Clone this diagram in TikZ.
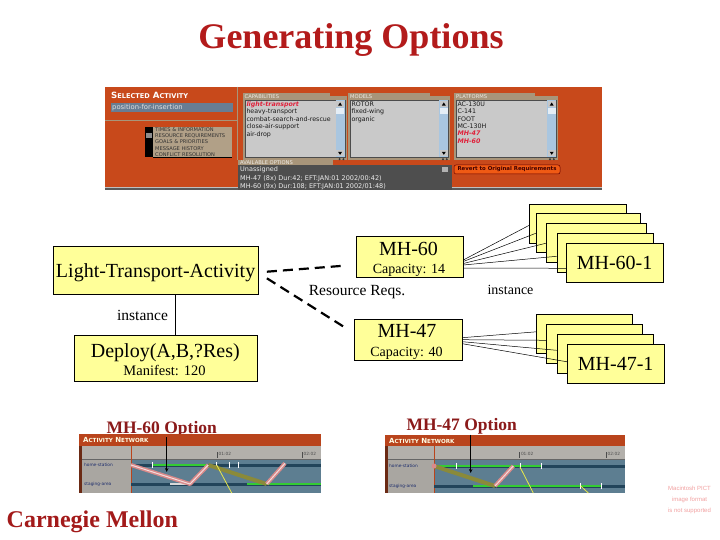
\documentclass[tikz,border=0pt]{standalone}
\usepackage{fontspec}
\setmainfont{Liberation Serif}
\newfontfamily\uifont{DejaVu Sans}
\newfontfamily\pictfont{Liberation Sans}
\usetikzlibrary{calc,arrows.meta}
\definecolor{boxyellow}{HTML}{FFFF99}
\definecolor{titlered}{HTML}{B31B1B}
\definecolor{optred}{HTML}{8B1A1A}
\definecolor{cmured}{HTML}{A31A1A}
\definecolor{pictpink}{HTML}{F2A0A0}
\definecolor{uiorange}{HTML}{C8491B}
\definecolor{uitan}{HTML}{A8957A}
\definecolor{uilist}{HTML}{C9C9C9}
\definecolor{uiscroll}{HTML}{A9C6E0}
\definecolor{uidark}{HTML}{4E4E4E}
\definecolor{uislate}{HTML}{687D93}
\definecolor{uitext}{HTML}{1A1A1A}
\definecolor{uired}{HTML}{E0203A}
\definecolor{revert}{HTML}{F05A14}
\definecolor{netorange}{HTML}{B9441C}
\definecolor{netgrey}{HTML}{B3B0AB}
\definecolor{netgreyb}{HTML}{A9A6A1}
\definecolor{netbrown}{HTML}{6B2A14}
\definecolor{netplot}{HTML}{5D7E91}
\definecolor{netbar}{HTML}{22445A}
\definecolor{netgreen}{HTML}{33CC33}
\definecolor{pinkband}{HTML}{D98A8A}
\definecolor{oliveband}{HTML}{8A8A3A}
\definecolor{netyellow}{HTML}{E8E84A}
\definecolor{netlabel}{HTML}{1C2C6C}
\begin{document}
\begin{tikzpicture}[x=1pt,y=-1pt,
  box/.style={draw=black, line width=0.6pt, fill=boxyellow, inner sep=0pt},
  dashline/.style={line width=2.2pt, dash pattern=on 10pt off 6pt},
  link/.style={line width=0.5pt},
  ui/.style={inner sep=0pt, anchor=west, font=\uifont\fontsize{6.3}{7}\selectfont, text=uitext},
  uiredtxt/.style={ui, text=uired, font=\uifont\bfseries\itshape\fontsize{6.3}{7}\selectfont},
  uiopt/.style={ui, text=white!92!black, font=\uifont\fontsize{6.5}{7}\selectfont},
  uihead/.style={inner sep=0pt, anchor=west, font=\uifont\fontsize{5.2}{6}\selectfont, text=white!80!uitan},
  menuitem/.style={inner sep=0pt, anchor=west, font=\uifont\fontsize{5.1}{6}\selectfont, text=black!80},
  nettitle/.style={inner sep=0pt, anchor=west, font=\uifont\bfseries\fontsize{7}{7}\selectfont, text=white!90!yellow},
  netrow/.style={inner sep=0pt, anchor=west, font=\uifont\fontsize{4.3}{5}\selectfont, text=netlabel},
  nettick/.style={inner sep=0pt, anchor=west, font=\uifont\fontsize{4.3}{5}\selectfont, text=black!70},
  bigtxt/.style={inner sep=0pt, anchor=base, font=\fontsize{20}{22}\selectfont},
  smalltxt/.style={inner sep=0pt, anchor=base, font=\fontsize{14}{16}\selectfont},
  optlabel/.style={inner sep=0pt, anchor=base, text=optred, font=\fontsize{17.5}{20}\selectfont\bfseries}
]
\useasboundingbox (0,0) rectangle (720,540);
\fill[white] (0,0) rectangle (720,540);

% ---------- title
\node[anchor=base, inner sep=0pt, text=titlered, font=\fontsize{36}{40}\selectfont\bfseries] (title) at (351,49) {Generating Options};

% ---------- top screenshot
\fill[uiorange] (105,86.7) rectangle (602,190);
\draw[uitan, line width=1.2pt] (105,120.7) -- (237.5,120.7);
\draw[uitan, line width=1.2pt] (237.5,86.7) -- (237.5,160);
\node[inner sep=0pt, anchor=west, text=white, font=\uifont\bfseries\fontsize{8.6}{9}\selectfont] (selact) at (111,95.5)
  {S{\fontsize{6.6}{7}\selectfont ELECTED} A{\fontsize{6.6}{7}\selectfont CTIVITY}};
\fill[uislate] (110.7,103.3) rectangle (233.3,111.7);
\node[ui, text=black!12, font=\uifont\fontsize{6.8}{7}\selectfont] (actname) at (112,107.6) {position-for-insertion};
\fill[black] (145,126.7) rectangle (153.3,157.3);
\fill[black!45] (146.2,133.3) rectangle (152.2,138.3);
\foreach \i/\t in {0/TIMES \& INFORMATION,1/RESOURCE REQUIREMENTS,2/GOALS \& PRIORITIES,3/MESSAGE HISTORY,4/CONFLICT RESOLUTION}{
  \fill[uitan!90!white] (153.3,126.7+\i*6.12) rectangle (231.7,126.7+\i*6.12+6.12);
  \draw[black, line width=0.4pt] (153.3,126.7+\i*6.12+6.12) -- (231.7,126.7+\i*6.12+6.12);
  \node[menuitem] (menu\i) at (155,126.7+\i*6.12+3.2) {\t};
}
% capabilities panel
\fill[uitan] (242.7,96) rectangle (346.7,160);
\fill[uitan] (242.7,93.3) rectangle (330,96);
\node[uihead] (caphead) at (244.5,96.4) {CAPABILITIES};
\fill[uilist] (245,100) rectangle (345,157.3);
\draw[black!70, line width=0.5pt] (245,100) rectangle (345,157.3);
\fill[uiscroll] (335.5,100.3) rectangle (344.7,157);
\fill[black!22] (336.2,101) rectangle (344,107.5);
\fill[black!22] (336.2,150) rectangle (344,156.5);
\fill[white!70!uiscroll] (336.2,108.3) rectangle (344,114.5);
\fill[black] (340.1,102.5) -- (338.1,105.6) -- (342.1,105.6) -- cycle;
\fill[black] (338.1,151.8) -- (342.1,151.8) -- (340.1,154.8) -- cycle;
\node[uiredtxt] (cap1) at (246.3,104.3) {light-transport};
\node[ui] (cap2) at (246.3,111.8) {heavy-transport};
\node[ui] (cap3) at (246.3,119.3) {combat-search-and-rescue};
\node[ui] (cap4) at (246.3,126.8) {close-air-support};
\node[ui] (cap5) at (246.3,134.3) {air-drop};
\fill[black!80] (339.6,159.2) circle (1.1);
\fill[black!80] (343.4,159.2) circle (1.1);
% models panel
\fill[uitan] (348.3,96) rectangle (450,160);
\fill[uitan] (348.3,93.3) rectangle (430,96);
\node[uihead] (modhead) at (350,96.4) {MODELS};
\fill[uilist] (350,100) rectangle (448.3,157.3);
\draw[black!70, line width=0.5pt] (350,100) rectangle (448.3,157.3);
\fill[uiscroll] (439.3,100.3) rectangle (448,157);
\fill[black!22] (440,101) rectangle (447.6,107.5);
\fill[black!22] (440,150) rectangle (447.6,156.5);
\fill[white!70!uiscroll] (440,108.3) rectangle (447.6,114.5);
\fill[black] (443.8,102.5) -- (441.8,105.6) -- (445.8,105.6) -- cycle;
\fill[black] (441.8,151.8) -- (445.8,151.8) -- (443.8,154.8) -- cycle;
\node[ui] (mod1) at (351.3,104.3) {ROTOR};
\node[ui] (mod2) at (351.3,111.8) {fixed-wing};
\node[ui] (mod3) at (351.3,119.3) {organic};
\fill[black!80] (443,159.2) circle (1.1);
\fill[black!80] (446.8,159.2) circle (1.1);
% platforms panel
\fill[uitan] (454.3,96) rectangle (558.3,160);
\fill[uitan] (454.3,93.3) rectangle (535,96);
\node[uihead] (plathead) at (456,96.4) {PLATFORMS};
\fill[uilist] (456,100) rectangle (556.7,157.3);
\draw[black!70, line width=0.5pt] (456,100) rectangle (556.7,157.3);
\fill[uiscroll] (547,100.3) rectangle (556.4,157);
\fill[black!22] (547.7,101) rectangle (555.7,107.5);
\fill[black!22] (547.7,150) rectangle (555.7,156.5);
\fill[white!70!uiscroll] (547.7,108.3) rectangle (555.7,114.5);
\fill[black] (551.7,102.5) -- (549.7,105.6) -- (553.7,105.6) -- cycle;
\fill[black] (549.7,151.8) -- (553.7,151.8) -- (551.7,154.8) -- cycle;
\node[ui] (plat1) at (457.3,104.3) {AC-130U};
\node[ui] (plat2) at (457.3,111.7) {C-141};
\node[ui] (plat3) at (457.3,119.1) {FOOT};
\node[ui] (plat4) at (457.3,126.6) {MC-130H};
\node[uiredtxt] (plat5) at (457.3,133.7) {MH-47};
\node[uiredtxt] (plat6) at (457.3,141.2) {MH-60};
\fill[black!80] (550,159.2) circle (1.1);
\fill[black!80] (553.8,159.2) circle (1.1);
% available options
\fill[uitan] (238.3,160) rectangle (333,165);
\node[uihead] (avhead) at (240,162.6) {AVAILABLE OPTIONS};
\fill[uidark] (238.3,165) rectangle (451.7,190);
\fill[black!30] (441.7,166.7) rectangle (448.3,171.7);
\node[uiopt] (av1) at (240,170.2) {Unassigned};
\node[uiopt] (av2) at (240,178.4) {MH-47 (8x) Dur:42; EFT:JAN:01 2002/00:42)};
\node[uiopt] (av3) at (240,186.5) {MH-60 (9x) Dur:108; EFT:JAN:01 2002/01:48)};
\fill[black!65] (105,187.3) rectangle (238.3,190);
\fill[black!65] (451.7,187.3) rectangle (602,190);
\draw[black!25, line width=0.5pt] (105,187) -- (238.3,187);
\draw[black!25, line width=0.5pt] (451.7,187) -- (602,187);
\node[draw=black!60!red, line width=0.5pt, fill=revert, rounded corners=2pt, minimum width=106pt, minimum height=9pt, inner sep=0pt,
  font=\uifont\bfseries\fontsize{5.4}{6}\selectfont, text=black!75!red] (revert) at (507,169.5) {Revert to Original Requirements};

% ---------- main diagram
\node[box, minimum width=205pt, minimum height=47.5pt, text depth=0pt, font=\fontsize{20}{22}\selectfont] (lta) at (155.6,270.5) {Light-Transport-Activity};
\node[box, minimum width=183pt, minimum height=46pt] (deploy) at (165.5,358.7) {};
\node[inner sep=0pt, anchor=base, font=\fontsize{20}{22}\selectfont] (deployname) at (165.3,357.7) {Deploy(A,B,?Res)};
\node[inner sep=0pt, anchor=base, font=\fontsize{14.5}{16}\selectfont] (manifest) at (164.5,375) {Manifest: 120};
\draw[link, line width=0.6pt] ([xshift=19.9pt]lta.south) -- ([xshift=10pt]deploy.north);
\node[inner sep=0pt, anchor=base, font=\fontsize{15.5}{18}\selectfont] (inst1) at (142.5,320) {instance};

\node[box, minimum width=107pt, minimum height=40.6pt] (mh60) at (409.5,257) {};
\node[bigtxt] (mh60name) at (408.5,255) {MH-60};
\node[smalltxt] (mh60cap) at (409,273.3) {Capacity: 14};
\node[box, minimum width=108pt, minimum height=40.7pt] (mh47) at (408,339.7) {};
\node[bigtxt] (mh47name) at (407,337.7) {MH-47};
\node[smalltxt] (mh47cap) at (406.5,356.5) {Capacity: 40};

\draw[dashline] ($(lta.east)+(8.5,1.2)$) -- ($(mh60.west)+(-11.5,8.7)$);
\draw[dashline] ($(lta.east)+(8.5,7.8)$) -- ($(mh47.west)+(-7.5,-11.4)$);
\node[inner sep=0pt, anchor=base, font=\fontsize{15.5}{18}\selectfont] (resreq) at (357,295.7) {Resource Reqs.};
\node[inner sep=0pt, anchor=base, font=\fontsize{14}{16}\selectfont] (inst2) at (510.5,294.3) {instance};

% MH-60 instances (each link drawn right after its box: it crosses earlier boxes, later boxes cover it)
\node[box, minimum width=97pt, minimum height=39pt] (s1) at (578,223.8) {};
\draw[link] ($(mh60.east)+(0,3)$) -- ($(s1.west)+(0,1.5)$);
\node[box, minimum width=104pt, minimum height=39pt] (s2) at (588,232.8) {};
\draw[link] ($(mh60.east)+(0,4.5)$) -- ($(s2.west)+(0,0.5)$);
\node[box, minimum width=100pt, minimum height=39pt] (s3) at (596,242.8) {};
\draw[link] ($(mh60.east)+(0,6.5)$) -- ($(s3.west)+(0,0.5)$);
\node[box, minimum width=96pt, minimum height=39pt] (s4) at (605,252.8) {};
\draw[link] ($(mh60.east)+(0,8)$) -- ($(s4.west)+(0,3.5)$);
\node[box, minimum width=97pt, minimum height=39pt, text depth=0pt, font=\fontsize{20}{22}\selectfont] (s5) at (614.6,262.8) {MH-60-1};
\draw[link] ($(mh60.east)+(0,11)$) -- ($(s5.west)+(0,5.5)$);

% MH-47 instances
\node[box, minimum width=96pt, minimum height=39pt] (t1) at (584.7,333.8) {};
\draw[link] ($(mh47.east)+(0,-2)$) -- ($(t1.west)+(0,-2)$);
\node[box, minimum width=96pt, minimum height=39pt] (t2) at (594.7,343.8) {};
\draw[link] ($(mh47.east)+(0,0)$) -- ($(t2.west)+(0,-3.5)$);
\node[box, minimum width=96pt, minimum height=39pt] (t3) at (605,353.8) {};
\draw[link] ($(mh47.east)+(0,2)$) -- ($(t3.west)+(0,-3.5)$);
\node[box, minimum width=96.7pt, minimum height=39pt, text depth=0pt, font=\fontsize{20}{22}\selectfont] (t4) at (615.7,363.8) {MH-47-1};
\draw[link] ($(mh47.east)+(0,4)$) -- ($(t4.west)+(0,-2)$);

% ---------- bottom-left network screenshot
\node[optlabel] (optA) at (161.7,433.5) {MH-60 Option};
\fill[netorange] (79,434) rectangle (321,446);
\node[nettitle] (netAt) at (83,440.3) {A{\fontsize{5.6}{6}\selectfont CTIVITY} N{\fontsize{5.6}{6}\selectfont ETWORK}};
\fill[netgrey] (79,446) rectangle (321,459);
\fill[netgreyb] (79,459) rectangle (131,493);
\fill[netbrown] (79,446) rectangle (81.5,493);
\fill[netplot] (131,459) rectangle (321,493);
\draw[black!60, line width=0.5pt] (81.5,459) -- (321,459);
\draw[netorange, line width=1pt] (131,446) -- (131,493);
\draw[black!70, line width=0.4pt] (217,452) -- (217,458);
\node[nettick] (tA1) at (218.5,453.5) {01:02};
\draw[black!70, line width=0.4pt] (302,452) -- (302,458);
\node[nettick] (tA2) at (303.5,453.5) {02:02};
\node[netrow] (rA1) at (84,465) {home-station};
\node[netrow] (rA2) at (84,484) {staging-area};
\draw[netbar, line width=3pt] (131,465) -- (321,465);
\draw[netbar, line width=3pt] (131,484) -- (321,484);
\draw[netgreen, line width=2pt] (152,465) -- (208,465);
\draw[netgreen, line width=2pt] (247,484) -- (321,484);
\draw[white!85!black, line width=1.3pt] (170,484) -- (188,484);
\foreach \x in {152,216.7,229,238}{\draw[white, line width=0.7pt] (\x,462) -- (\x,468);}
\draw[pinkband, line width=4pt, line join=round] (131,465) -- (190,484) -- (208.3,465);
\draw[oliveband, line width=4pt] (208.3,465) -- (266.7,484);
\draw[pinkband, line width=4pt, line join=round] (266.7,484) -- (285,463.3);
\draw[white!70!pinkband, line width=1pt] (131,465) -- (190,484) -- (208.3,465);
\draw[white!70!pinkband, line width=1pt] (266.7,484) -- (285,463.3);
\draw[netyellow, line width=0.8pt] (216.7,465) -- (231.7,493);
\coordinate (arrA) at (166.7,472);
\draw[line width=0.8pt, -{Stealth[length=4pt,width=3.5pt]}] (optA.south -| arrA) -- (arrA);

% ---------- bottom-right network screenshot
\node[optlabel] (optB) at (461.7,430.7) {MH-47 Option};
\fill[netorange] (385,435) rectangle (625,446);
\node[nettitle] (netBt) at (389,440.8) {A{\fontsize{5.6}{6}\selectfont CTIVITY} N{\fontsize{5.6}{6}\selectfont ETWORK}};
\fill[netgrey] (385,446) rectangle (625,459);
\fill[netgreyb] (385,459) rectangle (434,493);
\fill[netbrown] (385,446) rectangle (387.5,493);
\fill[netplot] (434,459) rectangle (625,493);
\draw[black!60, line width=0.5pt] (387.5,459) -- (625,459);
\draw[netorange, line width=1pt] (434,446) -- (434,493);
\draw[black!70, line width=0.4pt] (519.3,452) -- (519.3,458);
\node[nettick] (tB1) at (520.8,453.5) {01:02};
\draw[black!70, line width=0.4pt] (606,452) -- (606,458);
\node[nettick] (tB2) at (607.5,453.5) {02:02};
\node[netrow] (rB1) at (389,466) {home-station};
\node[netrow] (rB2) at (389,486) {staging-area};
\draw[netbar, line width=3pt] (434,466) -- (625,466);
\draw[netbar, line width=3pt] (434,486) -- (625,486);
\draw[netgreen, line width=2pt] (434,466) -- (541.7,466);
\draw[netgreen, line width=2pt] (473,486) -- (601.7,486);
\foreach \x in {456,520.7,541.7}{\draw[white, line width=0.7pt] (\x,463) -- (\x,469);}
\foreach \x in {580.7,601.7}{\draw[white, line width=0.7pt] (\x,483) -- (\x,489);}
\draw[oliveband, line width=4pt] (434,466) -- (495,486);
\draw[pinkband, line width=4pt] (495,486) -- (513.3,466);
\draw[white!70!pinkband, line width=1pt] (495,486) -- (513.3,466);
\fill[pinkband] (434,466) circle (2.5);
\draw[netyellow, line width=0.8pt] (520,467) -- (533.3,493);
\draw[netyellow, line width=0.8pt] (580.7,486) -- (588.3,493);
\coordinate (arrB) at (470.7,473);
\draw[line width=0.8pt, -{Stealth[length=4pt,width=3.5pt]}] (optB.south -| arrB) -- (arrB);

% ---------- footer
\node[anchor=base west, inner sep=0pt, text=cmured, font=\fontsize{24}{28}\selectfont\bfseries] (cmu) at (6.5,527) {Carnegie Mellon};
\node[inner sep=0pt, align=center, text=pictpink, font=\pictfont\fontsize{6}{11}\selectfont] (pict) at (689.5,500) {Macintosh PICT\\image format\\is not supported};
\end{tikzpicture}
\end{document}
